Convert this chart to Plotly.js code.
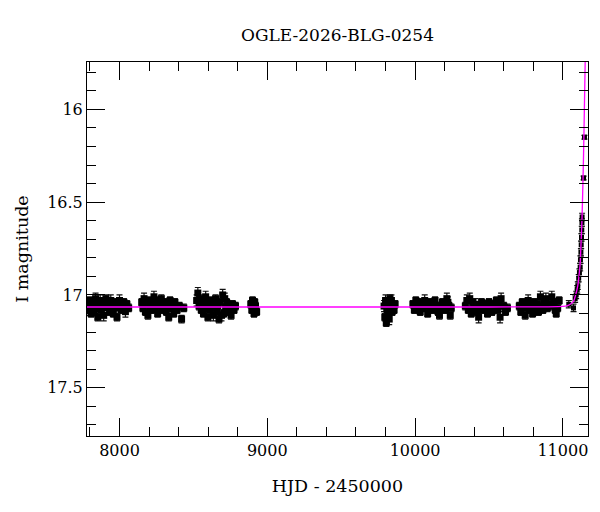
<!DOCTYPE html>
<html>
<head>
<meta charset="utf-8">
<script src="https://cdn.plot.ly/plotly-3.0.1.min.js"></script>
<style>html,body{margin:0;padding:0;background:#fff;}#chart{width:600px;height:512px;}</style>
</head>
<body>
<div id="chart"></div>
<script>
// Observed photometry: [HJD-2450000, I mag, error]
const season1 = [[7785,17.05,.02],[7792,17.08,.03],[7800,17.03,.02],[7808,17.10,.02],[7815,17.06,.03],[7822,17.04,.02],[7830,17.09,.02],[7838,17.02,.03],[7846,17.07,.02],[7853,17.12,.02],[7861,17.05,.02],[7869,17.03,.03],[7877,17.08,.02],[7885,17.06,.02],[7893,17.11,.03],[7900,17.04,.02],[7908,17.02,.02],[7916,17.07,.03],[7925,17.05,.02],[7933,17.09,.02],[7941,17.03,.03],[7950,17.06,.02],[7958,17.10,.02],[7966,17.04,.02],[7975,17.07,.03],[7983,17.12,.02],[7992,17.05,.02],[8000,17.03,.03],[8010,17.08,.02],[8020,17.06,.02],[8030,17.04,.02],[8040,17.09,.03],[8050,17.05,.02],[8062,17.07,.02]];
const season2 = [[8150,17.04,.02],[8158,17.07,.02],[8166,17.02,.03],[8175,17.09,.02],[8183,17.05,.02],[8192,17.11,.02],[8200,17.03,.02],[8208,17.06,.02],[8217,17.08,.02],[8225,17.04,.02],[8233,17.01,.03],[8242,17.07,.02],[8250,17.05,.02],[8258,17.10,.02],[8267,17.03,.02],[8275,17.06,.02],[8283,17.02,.02],[8292,17.08,.02],[8300,17.05,.02],[8308,17.04,.02],[8317,17.09,.02],[8325,17.06,.02],[8333,17.12,.02],[8342,17.03,.02],[8350,17.07,.02],[8358,17.05,.02],[8367,17.10,.02],[8375,17.04,.02],[8390,17.08,.02],[8405,17.06,.02],[8420,17.13,.02],[8435,17.07,.02]];
const season3 = [[8522,17.03,.03],[8530,16.99,.03],[8538,17.06,.02],[8545,17.02,.02],[8553,17.08,.02],[8560,17.04,.03],[8568,17.10,.02],[8575,17.05,.02],[8583,17.01,.03],[8590,17.07,.02],[8598,17.12,.02],[8605,17.04,.02],[8613,17.08,.03],[8620,17.03,.02],[8628,17.06,.02],[8635,17.11,.03],[8643,17.05,.02],[8650,17.02,.02],[8658,17.09,.02],[8665,17.06,.03],[8673,17.13,.02],[8680,17.04,.02],[8690,17.11,.03],[8698,17.00,.03],[8705,17.10,.02],[8712,17.02,.03],[8718,17.07,.02],[8725,17.04,.02],[8735,17.09,.02],[8745,17.06,.03],[8755,17.11,.02],[8765,17.05,.02],[8775,17.08,.02],[8785,17.06,.02]];
const season4 = [[8888,17.05,.02],[8895,17.08,.02],[8900,17.03,.02],[8905,17.07,.02],[8910,17.10,.02],[8915,17.04,.02],[8920,17.06,.02],[8928,17.09,.02]];
const season5 = [[9790,17.06,.03],[9795,17.12,.02],[9800,17.03,.03],[9805,17.15,.02],[9810,17.08,.02],[9815,17.05,.02],[9820,17.10,.02],[9825,17.13,.03],[9830,17.02,.02],[9835,17.07,.02],[9840,17.03,.03],[9845,17.09,.02],[9850,17.06,.02],[9858,17.08,.02],[9865,17.05,.02]];
const season6 = [[9985,17.05,.02],[9995,17.08,.02],[10005,17.03,.02],[10015,17.06,.03],[10025,17.04,.02],[10035,17.09,.02],[10045,17.05,.02],[10055,17.07,.02],[10065,17.03,.03],[10075,17.06,.02],[10085,17.10,.02],[10095,17.04,.02],[10105,17.07,.02],[10115,17.05,.02],[10125,17.08,.02],[10135,17.03,.02],[10145,17.06,.02],[10155,17.09,.02],[10165,17.11,.02],[10175,17.07,.03],[10185,17.04,.02],[10195,17.06,.02],[10205,17.08,.02],[10215,17.02,.03],[10222,17.04,.03],[10230,17.06,.02],[10238,17.11,.02],[10245,17.07,.02]];
const season7 = [[10340,17.06,.02],[10350,17.03,.03],[10360,17.08,.02],[10370,17.02,.03],[10380,17.10,.02],[10390,17.04,.02],[10400,17.07,.02],[10410,17.05,.03],[10420,17.09,.02],[10430,17.12,.03],[10440,17.06,.02],[10450,17.04,.02],[10460,17.08,.02],[10470,17.05,.02],[10480,17.07,.02],[10490,17.10,.02],[10500,17.04,.02],[10510,17.06,.02],[10520,17.09,.02],[10530,17.05,.02],[10540,17.07,.02],[10550,17.03,.02],[10560,17.08,.02],[10568,17.05,.02],[10575,17.12,.03],[10582,17.02,.03],[10600,17.06,.02],[10612,17.09,.02],[10625,17.07,.02]];
const season8 = [[10705,17.06,.02],[10715,17.09,.02],[10725,17.04,.02],[10735,17.07,.02],[10745,17.11,.02],[10755,17.05,.02],[10765,17.03,.03],[10775,17.08,.02],[10785,17.06,.02],[10795,17.10,.02],[10805,17.04,.02],[10815,17.07,.02],[10825,17.05,.02],[10835,17.09,.02],[10848,17.01,.03],[10855,17.06,.02],[10865,17.08,.02],[10875,17.04,.02],[10885,17.02,.03],[10895,17.07,.02],[10905,17.05,.02],[10925,17.01,.03],[10932,17.06,.02],[10940,17.04,.02],[10948,17.08,.02],[10955,17.10,.02],[10965,17.07,.02],[10975,17.03,.02]];
const rise = [[11040,17.05,.02],[11072,17.07,.02],[11083,17.02,.02],[11090,17.00,.02],[11097,16.97,.02],[11101,16.95,.02],[11107,16.91,.02],[11112,16.88,.02],[11117,16.85,.02],[11119,16.81,.02],[11122,16.77,.02],[11124,16.73,.02],[11126,16.69,.02],[11128,16.65,.02],[11129,16.61,.02],[11130,16.58,.02],[11140,16.37,.01],[11146,16.15,.01]];

// Microlensing model curve
const modelX = [7780, 8500, 9500, 10500, 10900, 11000, 11030, 11050, 11072, 11083, 11101, 11110, 11117, 11123, 11129, 11135, 11140, 11145, 11151, 11160];
const modelY = [17.065, 17.065, 17.065, 17.065, 17.064, 17.062, 17.058, 17.05, 17.035, 17.01, 16.95, 16.89, 16.83, 16.72, 16.60, 16.42, 16.24, 16.02, 15.74, 15.30];

const xTicks = [8000, 9000, 10000, 11000];
const yTicks = [16, 16.5, 17, 17.5];

const base = [].concat(season1, season2, season3, season4, season5, season6, season7, season8);
const serif = 'DejaVu Serif, Liberation Serif, serif';

function obsTrace(pts, size) {
  return {
    type: 'scatter', mode: 'markers',
    x: pts.map(p => p[0]), y: pts.map(p => p[1]),
    error_y: {type: 'data', array: pts.map(p => p[2]), visible: true, color: '#111', thickness: 1.2, width: 3},
    marker: {symbol: 'square', size: size, color: '#000'},
    showlegend: false, hoverinfo: 'x+y'
  };
}

const traces = [
  obsTrace(base, 7),
  obsTrace(rise, 5),
  {
    type: 'scatter', mode: 'lines',
    x: modelX, y: modelY,
    line: {color: '#ff00ff', width: 1.3, shape: 'spline', smoothing: 0.5},
    showlegend: false
  }
];

const axisCommon = {
  showline: true, linecolor: '#000', linewidth: 1, mirror: 'allticks',
  ticks: 'inside', ticklen: 18, tickwidth: 1, tickcolor: '#000',
  showgrid: false, zeroline: false,
  tickfont: {family: serif, size: 16, color: '#000'}
};

const layout = {
  width: 600, height: 512,
  paper_bgcolor: '#fff', plot_bgcolor: '#fff',
  margin: {l: 87, r: 12, t: 62, b: 76},
  title: {text: 'OGLE-2026-BLG-0254', font: {family: serif, size: 17, color: '#000'},
          x: 0.5, xref: 'paper', y: 1 - 35/512, yref: 'container', yanchor: 'middle'},
  xaxis: Object.assign({}, axisCommon, {
    range: [7780, 11170], tickvals: xTicks, ticktext: xTicks.map(String),
    minor: {dtick: 200, tick0: 0, ticks: 'inside', ticklen: 9, tickcolor: '#000', tickwidth: 1, showgrid: false},
    title: {text: 'HJD - 2450000', font: {family: serif, size: 17.5, color: '#000'}, standoff: 20}
  }),
  yaxis: Object.assign({}, axisCommon, {
    range: [17.76, 15.745], tickvals: yTicks, ticktext: yTicks.map(String),
    minor: {dtick: 0.1, tick0: 0, ticks: 'inside', ticklen: 9, tickcolor: '#000', tickwidth: 1, showgrid: false},
    title: {text: 'I magnitude', font: {family: serif, size: 17.5, color: '#000'}, standoff: 14}
  })
};

Plotly.newPlot('chart', traces, layout, {staticPlot: true});
</script>
</body>
</html>
